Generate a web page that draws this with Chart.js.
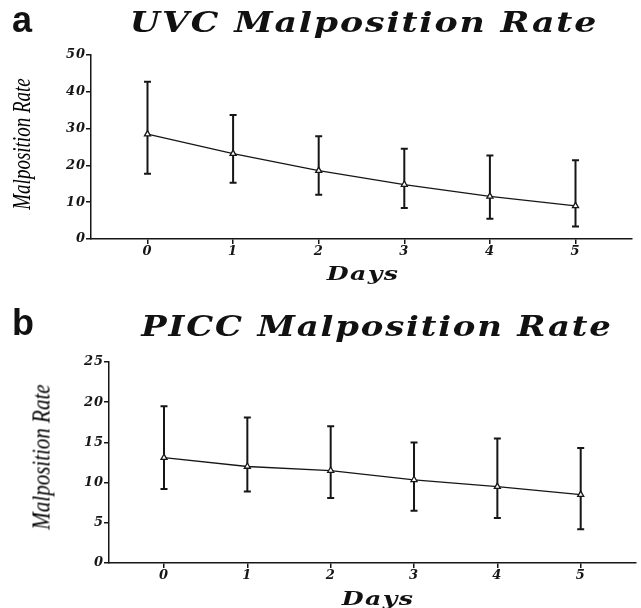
<!DOCTYPE html>
<html>
<head>
<meta charset="utf-8">
<script src="https://cdn.jsdelivr.net/npm/chart.js@4.4.1/dist/chart.umd.min.js"></script>
<style>
  body { margin: 0; background: #fff; }
  #wrap { position: relative; width: 641px; height: 608px; overflow: hidden; background: #fff; }
  .panel { position: absolute; left: 0; }
  .txt { position: absolute; white-space: nowrap; line-height: 1; color: #111; }
  .letter { font-family: "Liberation Sans", Arial, sans-serif; font-weight: bold; font-size: 36px; }
  .title { font-family: "DejaVu Serif", serif; font-style: italic; font-weight: bold; font-size: 28px; letter-spacing: 1.5px; transform: translateX(-50%) scaleX(1.24); }
  .xlab { font-family: "DejaVu Serif", serif; font-style: italic; font-weight: bold; font-size: 18px; letter-spacing: 1px; transform: translateX(-50%) scaleX(1.4); }
  .ylab { font-family: "Liberation Serif", serif; font-style: italic; font-size: 25px; color: #000; }
</style>
</head>
<body>
<div id="wrap">
  <div class="panel" style="top:0"><canvas id="uvc_chart" width="641" height="300"></canvas></div>
  <div class="panel" style="top:300px"><canvas id="picc_chart" width="641" height="308"></canvas></div>

  <div class="txt letter" style="left:12px; top:2px">a</div>
  <div class="txt title" style="left:364px; top:9px">UVC Malposition Rate</div>
  <div class="txt xlab" style="left:363px; top:265px">Days</div>
  <div class="txt ylab" style="left:21px; top:144px; transform:translate(-50%,-50%) rotate(-90deg) scaleX(0.76)">Malposition Rate</div>

  <div class="txt letter" style="left:12px; top:305px">b</div>
  <div class="txt title" style="left:377px; top:313px; transform:translateX(-50%) scaleX(1.21)">PICC Malposition Rate</div>
  <div class="txt xlab" style="left:378px; top:590px">Days</div>
  <div class="txt ylab" style="left:41px; top:457px; transform:translate(-50%,-50%) rotate(-90deg) scaleX(0.84)">Malposition Rate</div>
</div>
<script>
// 데이터
const days = [0, 1, 2, 3, 4, 5];

const uvcMean  = [28.5, 23.2, 18.6, 14.8, 11.6, 9.0];
const uvcUpper = [42.7, 33.7, 27.9, 24.5, 22.7, 21.4];
const uvcLower = [17.7, 15.3, 12.0, 8.4, 5.5, 3.4];

const piccMean  = [13.1, 12.0, 11.5, 10.35, 9.5, 8.5];
const piccUpper = [19.5, 18.1, 17.0, 15.0, 15.5, 14.3];
const piccLower = [9.2, 8.9, 8.1, 6.5, 5.6, 4.2];

const uvcTicks = [0, 10, 20, 30, 40, 50];
const piccTicks = [0, 5, 10, 15, 20, 25];

const ink = '#161616';
const tickFont = { family: '"DejaVu Serif", serif', size: 13, style: 'italic', weight: 'bold' };

// 오차 막대
const errorBars = {
  id: 'errorBars',
  beforeDatasetsDraw(chart) {
    const { ctx, scales: { x, y } } = chart;
    const ds = chart.data.datasets[0];
    ctx.save();
    ctx.strokeStyle = ink;
    ctx.lineWidth = 2;
    ds.data.forEach((p, i) => {
      const px = x.getPixelForValue(p.x);
      const top = y.getPixelForValue(ds.upper[i]);
      const bot = y.getPixelForValue(ds.lower[i]);
      ctx.beginPath();
      ctx.moveTo(px, top); ctx.lineTo(px, bot);
      ctx.moveTo(px - 3.5, top); ctx.lineTo(px + 3.5, top);
      ctx.moveTo(px - 3.5, bot); ctx.lineTo(px + 3.5, bot);
      ctx.stroke();
    });
    ctx.restore();
  }
};

const tickSpacing = {
  id: 'tickSpacing',
  beforeLayout(chart) { chart.ctx.letterSpacing = '1px'; },
  beforeDraw(chart) { chart.ctx.letterSpacing = '1px'; }
};

function makeChart(id, mean, upper, lower, yTicks, box) {
  return new Chart(document.getElementById(id), {
    type: 'line',
    data: {
      datasets: [{
        data: days.map((d, i) => ({ x: d, y: mean[i] })),
        upper: upper,
        lower: lower,
        borderColor: ink,
        borderWidth: 1.3,
        tension: 0,
        pointStyle: 'triangle',
        pointRadius: 3.5,
        pointBackgroundColor: '#fff',
        pointBorderColor: ink,
        pointBorderWidth: 1.3
      }]
    },
    options: {
      responsive: false,
      animation: false,
      devicePixelRatio: 1,
      layout: { padding: { top: box.top, right: box.right, left: 0, bottom: 0 } },
      plugins: { legend: { display: false }, tooltip: { enabled: false } },
      scales: {
        x: {
          type: 'linear',
          min: -0.66,
          max: 5.66,
          afterBuildTicks: (s) => { s.ticks = days.map(v => ({ value: v })); },
          afterFit: (s) => { s.height = box.xHeight; },
          border: { color: ink, width: 1.5 },
          grid: { drawOnChartArea: false, drawTicks: true, tickLength: 5, color: ink, lineWidth: 1.5 },
          ticks: { color: ink, font: tickFont, padding: 0, maxRotation: 0 }
        },
        y: {
          min: yTicks[0],
          max: yTicks[yTicks.length - 1],
          afterBuildTicks: (s) => { s.ticks = yTicks.map(v => ({ value: v })); },
          afterFit: (s) => { s.width = box.yWidth; },
          border: { color: ink, width: 1.5 },
          grid: { drawOnChartArea: false, drawTicks: true, tickLength: 5, color: ink, lineWidth: 1.5 },
          ticks: { color: ink, font: tickFont, padding: 0 }
        }
      }
    },
    plugins: [errorBars, tickSpacing]
  });
}

makeChart('uvc_chart', uvcMean, uvcUpper, uvcLower, uvcTicks, { top: 55, right: 9, yWidth: 91, xHeight: 61 });
makeChart('picc_chart', piccMean, piccUpper, piccLower, piccTicks, { top: 62, right: 0, yWidth: 109, xHeight: 45 });
</script>
</body>
</html>
